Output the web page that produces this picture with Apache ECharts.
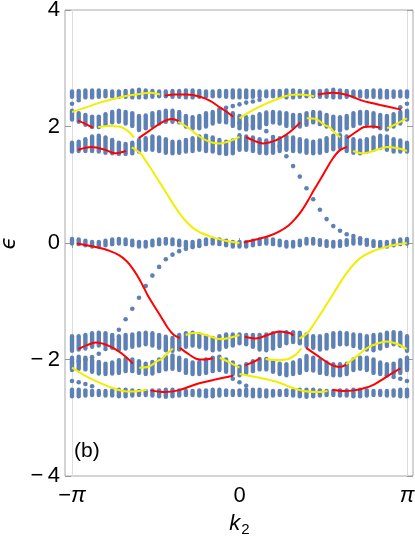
<!DOCTYPE html>
<html>
<head>
<meta charset="utf-8">
<script src="https://cdn.jsdelivr.net/npm/echarts@6/dist/echarts.min.js"></script>
<style>
  html, body { margin: 0; padding: 0; background: #fff; }
  #main { width: 415px; height: 544px; }
</style>
</head>
<body>
<div id="main"></div>
<script>
// columns of the bulk spectrum: 51 k-points from -pi to pi
const nCols = 51;
const kGrid = Array.from({ length: nCols }, (_, i) => -Math.PI + i * Math.PI / 25);

// bulk bands, lower / upper edge per column
const band1Lo = [2.51,2.50,2.50,2.50,2.51,2.52,2.52,2.51,2.51,2.50,2.50,2.50,2.51,2.52,2.52,2.51,2.51,2.50,2.50,2.51,2.52,2.52,2.52,2.51,2.50,2.50,2.50,2.51,2.52,2.52,2.52,2.51,2.50,2.50,2.51,2.52,2.52,2.51,2.51,2.50,2.50,2.51,2.52,2.52,2.51,2.51,2.50,2.50,2.51,2.52,2.51];
const band1Hi = [2.60,2.61,2.62,2.62,2.62,2.61,2.60,2.60,2.61,2.62,2.63,2.62,2.61,2.60,2.60,2.61,2.61,2.62,2.62,2.61,2.60,2.60,2.61,2.61,2.62,2.62,2.62,2.61,2.60,2.60,2.61,2.61,2.62,2.62,2.61,2.60,2.60,2.61,2.62,2.63,2.62,2.61,2.60,2.60,2.61,2.62,2.62,2.61,2.60,2.60,2.60];
const band2Lo = [2.12,2.08,2.03,1.99,1.99,2.03,2.07,2.08,2.05,2.01,1.94,1.97,2.01,2.05,2.08,2.08,2.07,2.00,1.97,1.97,2.00,2.05,2.08,2.07,2.01,1.97,1.95,1.97,2.01,2.04,2.07,2.05,2.01,1.99,2.00,2.03,2.07,2.04,2.00,1.95,1.93,1.97,2.01,2.05,2.04,2.00,1.97,1.95,2.00,2.05,2.12];
const band2Hi = [2.27,2.23,2.20,2.17,2.17,2.21,2.25,2.27,2.25,2.23,2.18,2.19,2.23,2.25,2.27,2.27,2.25,2.18,2.16,2.18,2.23,2.25,2.27,2.25,2.23,2.18,2.16,2.17,2.21,2.24,2.25,2.24,2.23,2.20,2.20,2.23,2.25,2.24,2.20,2.17,2.16,2.18,2.23,2.25,2.25,2.23,2.20,2.18,2.21,2.25,2.27];
const band3Lo = [1.57,1.58,1.58,1.58,1.57,1.55,1.54,1.53,1.53,1.54,1.57,1.60,1.60,1.58,1.55,1.54,1.55,1.57,1.58,1.60,1.58,1.57,1.54,1.53,1.54,1.60,1.60,1.58,1.55,1.54,1.55,1.58,1.60,1.58,1.57,1.55,1.54,1.55,1.58,1.61,1.63,1.58,1.55,1.54,1.57,1.60,1.63,1.60,1.57,1.57,1.57];
const band3Hi = [1.72,1.74,1.78,1.83,1.84,1.81,1.77,1.72,1.70,1.72,1.77,1.80,1.83,1.81,1.78,1.74,1.74,1.77,1.80,1.83,1.84,1.81,1.77,1.74,1.76,1.85,1.83,1.81,1.78,1.76,1.77,1.80,1.83,1.81,1.78,1.76,1.74,1.76,1.80,1.84,1.85,1.83,1.78,1.76,1.78,1.81,1.84,1.83,1.78,1.76,1.72];
const band0Lo = [-0.01,-0.02,-0.04,-0.06,-0.06,-0.04,-0.02,-0.01,-0.02,-0.04,-0.06,-0.06,-0.04,-0.02,-0.01,-0.02,-0.04,-0.06,-0.06,-0.04,-0.02,-0.01,-0.02,-0.04,-0.06,-0.06,-0.06,-0.04,-0.02,-0.01,-0.02,-0.04,-0.06,-0.06,-0.04,-0.01,-0.01,-0.03,-0.05,-0.06,-0.05,-0.03,-0.01,-0.01,-0.03,-0.05,-0.06,-0.06,-0.04,-0.02,-0.01];
const band0Hi = [0.07,0.06,0.04,0.02,0.02,0.04,0.06,0.07,0.06,0.04,0.02,0.02,0.04,0.06,0.07,0.06,0.04,0.02,0.02,0.04,0.06,0.07,0.06,0.04,0.02,0.02,0.02,0.04,0.06,0.07,0.06,0.04,0.02,0.02,0.04,0.07,0.07,0.05,0.03,0.02,0.03,0.05,0.07,0.07,0.05,0.03,0.02,0.02,0.04,0.06,0.07];
const band4Lo = [-1.85,-1.83,-1.81,-1.78,-1.76,-1.77,-1.80,-1.83,-1.81,-1.78,-1.76,-1.74,-1.76,-1.80,-1.84,-1.85,-1.83,-1.78,-1.76,-1.78,-1.81,-1.84,-1.83,-1.78,-1.76,-1.72,-1.74,-1.78,-1.83,-1.84,-1.81,-1.77,-1.72,-1.70,-1.72,-1.77,-1.80,-1.83,-1.81,-1.78,-1.74,-1.74,-1.77,-1.80,-1.83,-1.84,-1.81,-1.77,-1.74,-1.76,-1.85];
const band4Hi = [-1.60,-1.60,-1.58,-1.55,-1.54,-1.55,-1.58,-1.60,-1.58,-1.57,-1.55,-1.54,-1.55,-1.58,-1.61,-1.63,-1.58,-1.55,-1.54,-1.57,-1.60,-1.63,-1.60,-1.57,-1.57,-1.57,-1.58,-1.58,-1.58,-1.57,-1.55,-1.54,-1.53,-1.53,-1.54,-1.57,-1.60,-1.60,-1.58,-1.55,-1.54,-1.55,-1.57,-1.58,-1.60,-1.58,-1.57,-1.54,-1.53,-1.54,-1.60];
const band5Lo = [-2.18,-2.16,-2.17,-2.21,-2.24,-2.25,-2.24,-2.23,-2.20,-2.20,-2.23,-2.25,-2.24,-2.20,-2.17,-2.16,-2.18,-2.23,-2.25,-2.25,-2.23,-2.20,-2.18,-2.21,-2.25,-2.27,-2.23,-2.20,-2.17,-2.17,-2.21,-2.25,-2.27,-2.25,-2.23,-2.18,-2.19,-2.23,-2.25,-2.27,-2.27,-2.25,-2.18,-2.16,-2.18,-2.23,-2.25,-2.27,-2.25,-2.23,-2.18];
const band5Hi = [-1.97,-1.95,-1.97,-2.01,-2.04,-2.07,-2.05,-2.01,-1.99,-2.00,-2.03,-2.07,-2.04,-2.00,-1.95,-1.93,-1.97,-2.01,-2.05,-2.04,-2.00,-1.97,-1.95,-2.00,-2.05,-2.12,-2.08,-2.03,-1.99,-1.99,-2.03,-2.07,-2.08,-2.05,-2.01,-1.94,-1.97,-2.01,-2.05,-2.08,-2.08,-2.07,-2.00,-1.97,-1.97,-2.00,-2.05,-2.08,-2.07,-2.01,-1.97];
const band6Lo = [-2.63,-2.63,-2.62,-2.61,-2.61,-2.62,-2.62,-2.63,-2.63,-2.62,-2.61,-2.61,-2.62,-2.63,-2.64,-2.63,-2.62,-2.61,-2.61,-2.62,-2.63,-2.63,-2.62,-2.61,-2.61,-2.61,-2.62,-2.63,-2.63,-2.63,-2.62,-2.61,-2.61,-2.62,-2.63,-2.64,-2.63,-2.62,-2.61,-2.61,-2.62,-2.62,-2.63,-2.63,-2.62,-2.61,-2.61,-2.62,-2.62,-2.63,-2.63];
const band6Hi = [-2.52,-2.52,-2.53,-2.54,-2.54,-2.54,-2.53,-2.52,-2.52,-2.53,-2.54,-2.54,-2.53,-2.53,-2.52,-2.52,-2.53,-2.54,-2.54,-2.53,-2.53,-2.52,-2.52,-2.53,-2.54,-2.53,-2.52,-2.52,-2.52,-2.53,-2.54,-2.54,-2.53,-2.53,-2.52,-2.52,-2.52,-2.53,-2.54,-2.54,-2.53,-2.53,-2.52,-2.52,-2.53,-2.54,-2.54,-2.54,-2.53,-2.52,-2.52];

// edge-state dots: [column, energy]
const edgeDots = [
  [0,2.39],[1,2.45],[49,2.33],[50,2.39],
  [22,2.29],[23,2.32],[24,2.35],[25,2.38],[26,2.41],[27,2.43],[28,2.46],
  [25,2.06],[26,2.03],[27,2.01],[28,1.98],[29,1.92],[30,1.82],[31,1.66],[32,1.49],[33,1.32],[34,1.14],
  [35,0.94],[36,0.75],[37,0.57],[38,0.41],[39,0.29],[40,0.21],[41,0.15],[42,0.12],[43,0.08],[44,0.05],
  [0,-2.06],[1,-2.03],[2,-2.00],[3,-1.96],[4,-1.90],[5,-1.82],[6,-1.66],[7,-1.49],[8,-1.31],[9,-1.13],
  [10,-0.94],[11,-0.74],[12,-0.56],[13,-0.41],[14,-0.28],[15,-0.20],[16,-0.14],[17,-0.10],[18,-0.07],[19,-0.05],[50,-2.06],
  [47,-2.27],[48,-2.30],[49,-2.33],[50,-2.37],[0,-2.37],[1,-2.39],[2,-2.42],[3,-2.46],
  [24,-2.33],[25,-2.39],[26,-2.45]
];

// red edge-state lines: [k, energy]
const red1 = [[-1.40,2.53],[-1.21,2.55],[-0.99,2.55],[-0.74,2.51],[-0.55,2.44],[-0.42,2.36],[-0.27,2.27],[-0.12,2.17]];
const red2 = [[1.47,2.55],[1.75,2.58],[2.02,2.54],[2.32,2.44],[2.64,2.37],[3.03,2.29]];
const red3 = [[-3.03,2.10],[-2.90,2.05],[-2.75,1.98]];
const red4 = [[-3.03,1.60],[-2.77,1.65],[-2.52,1.60],[-2.34,1.54],[-2.13,1.58]];
const red5 = [[-1.89,1.80],[-1.70,1.92],[-1.44,2.08],[-1.27,2.13],[-1.14,2.09]];
const red6 = [[0.12,1.82],[0.29,1.75],[0.44,1.71],[0.70,1.77],[0.95,1.91],[1.14,2.07]];
const red7 = [[2.02,1.80],[2.19,1.91],[2.34,1.99],[2.49,2.00],[2.64,1.98]];
const red8 = [[0.08,0.01],[0.31,0.06],[0.55,0.12],[0.75,0.20],[0.92,0.30],[1.05,0.42],[1.17,0.56],[1.28,0.72],[1.39,0.90],[1.51,1.08],[1.63,1.27],[1.75,1.45],[1.88,1.59],[2.02,1.65]];
const red9 = [[1.74,-2.52],[1.95,-2.54],[2.15,-2.53],[2.35,-2.49],[2.52,-2.43],[2.65,-2.36],[2.77,-2.29],[3.02,-2.15]];
const red10 = [[-1.67,-2.53],[-1.40,-2.56],[-1.15,-2.53],[-0.80,-2.42],[-0.48,-2.35],[-0.12,-2.28]];
const red11 = [[0.11,-2.10],[0.24,-2.05],[0.39,-1.98]];
const red12 = [[0.10,-1.61],[0.30,-1.64],[0.55,-1.57],[0.75,-1.52],[0.95,-1.55],[1.01,-1.59]];
const red13 = [[1.25,-1.80],[1.44,-1.92],[1.70,-2.08],[1.87,-2.13],[2.00,-2.09]];
const red14 = [[-3.02,-1.82],[-2.85,-1.75],[-2.70,-1.71],[-2.44,-1.77],[-2.19,-1.91],[-2.00,-2.07]];
const red15 = [[-1.12,-1.80],[-0.95,-1.91],[-0.80,-1.99],[-0.65,-2.00],[-0.50,-1.98]];
const red16 = [[-3.05,-0.01],[-2.70,-0.07],[-2.45,-0.13],[-2.26,-0.21],[-2.12,-0.31],[-2.01,-0.43],[-1.91,-0.57],[-1.82,-0.72],[-1.72,-0.90],[-1.60,-1.08],[-1.47,-1.27],[-1.35,-1.45],[-1.23,-1.58],[-1.12,-1.63]];

// yellow edge-state lines: [k, energy]
const yel1 = [[-3.14,2.25],[-2.90,2.32],[-2.62,2.41],[-2.37,2.47],[-2.15,2.52],[-1.87,2.56],[-1.68,2.58],[-1.49,2.55]];
const yel2 = [[0,2.14],[0.25,2.28],[0.52,2.40],[0.76,2.49],[0.95,2.54],[1.14,2.55],[1.40,2.52]];
const yel3 = [[-2.65,1.99],[-2.45,2.01],[-2.26,2.00],[-2.09,1.92],[-1.98,1.81]];
const yel4 = [[-2.02,1.64],[-1.87,1.55],[-1.75,1.40],[-1.62,1.22],[-1.49,1.03],[-1.36,0.84],[-1.23,0.65],[-1.10,0.48],[-0.97,0.34],[-0.83,0.23],[-0.66,0.15],[-0.44,0.08],[-0.22,0.03],[0,0.00]];
const yel5 = [[-1.15,2.08],[-0.95,1.97],[-0.74,1.82],[-0.50,1.72],[-0.37,1.71],[-0.12,1.77],[0,1.82]];
const yel6 = [[1.26,2.14],[1.45,2.12],[1.59,2.03],[1.70,1.98],[1.77,1.91],[1.89,1.81]];
const yel7 = [[2.77,1.97],[2.95,2.05],[3.14,2.14]];
const yel8 = [[2.13,1.58],[2.32,1.54],[2.58,1.60],[2.77,1.65],[2.95,1.63],[3.14,1.58]];
const yel9 = [[0,-2.25],[0.35,-2.31],[0.72,-2.39],[1.00,-2.49],[1.20,-2.54],[1.45,-2.56],[1.65,-2.54]];
const yel10 = [[-3.14,-2.14],[-2.89,-2.28],[-2.62,-2.40],[-2.38,-2.49],[-2.19,-2.54],[-2.00,-2.55],[-1.74,-2.52]];
const yel11 = [[0.49,-1.99],[0.69,-2.01],[0.88,-2.00],[1.05,-1.92],[1.16,-1.81]];
const yel12 = [[1.12,-1.64],[1.27,-1.55],[1.39,-1.40],[1.52,-1.22],[1.65,-1.03],[1.78,-0.84],[1.91,-0.65],[2.04,-0.48],[2.17,-0.34],[2.31,-0.23],[2.48,-0.15],[2.70,-0.08],[2.92,-0.03],[3.14,0.00]];
const yel13 = [[2.00,-2.08],[2.19,-1.95],[2.40,-1.80],[2.60,-1.72],[2.75,-1.69],[2.95,-1.73],[3.14,-1.82]];
const yel14 = [[-1.88,-2.14],[-1.69,-2.12],[-1.55,-2.03],[-1.44,-1.98],[-1.37,-1.91],[-1.25,-1.81]];
const yel15 = [[-0.37,-1.97],[-0.19,-2.05],[0,-2.14]];
const yel16 = [[-1.01,-1.58],[-0.82,-1.54],[-0.56,-1.60],[-0.37,-1.65],[-0.19,-1.63],[0,-1.58]];

// tick labels
const yTicks = [-4, -2, 0, 2, 4];

const BLUE = "#5E81B5";
const RED = "#F00";
const YELLOW = "#F2EE00";
const FONT = "Liberation Sans, Arial, sans-serif";

const bands = [
  [band1Lo, band1Hi], [band2Lo, band2Hi], [band3Lo, band3Hi], [band0Lo, band0Hi],
  [band4Lo, band4Hi], [band5Lo, band5Hi], [band6Lo, band6Hi],
];
const redLines = [red1, red2, red3, red4, red5, red6, red7, red8, red9, red10, red11, red12, red13, red14, red15, red16];
const yellowLines = [yel1, yel2, yel3, yel4, yel5, yel6, yel7, yel8, yel9, yel10, yel11, yel12, yel13, yel14, yel15, yel16];

let series = [];

// bulk bands: one vertical rounded stroke per column
bands.forEach(function (b) {
  series.push({
    type: "custom",
    xAxisIndex: 1,
    yAxisIndex: 2,
    silent: true,
    clip: false,
    z: 2,
    encode: { x: 0, y: [1, 2] },
    data: kGrid.map((k, i) => [k, b[0][i], b[1][i]]),
    renderItem: function (params, api) {
      const p1 = api.coord([api.value(0), api.value(1)]);
      const p2 = api.coord([api.value(0), api.value(2)]);
      return {
        type: "line",
        shape: { x1: p1[0], y1: p1[1], x2: p2[0], y2: p2[1] },
        style: { stroke: BLUE, lineWidth: 4.4, lineCap: "round" },
      };
    },
  });
});

// edge-state dots
series.push({
  type: "scatter",
  xAxisIndex: 1,
  yAxisIndex: 2,
  silent: true,
  clip: false,
  z: 2,
  symbolSize: 4.6,
  itemStyle: { color: BLUE, opacity: 1 },
  data: edgeDots.map((d) => [kGrid[d[0]], d[1]]),
});

function addLines(list, color) {
  list.forEach(function (seg) {
    series.push({
      type: "line",
      xAxisIndex: 1,
      yAxisIndex: 2,
      silent: true,
      clip: false,
      z: 4,
      smooth: 0.35,
      showSymbol: false,
      lineStyle: { color: color, width: 2 },
      data: seg,
    });
  });
}
addLines(redLines, RED);
addLines(yellowLines, YELLOW);

let option = {
  backgroundColor: "#fff",
  animation: false,
  title: {
    text: "(b)",
    left: 74,
    top: 441,
    padding: 0,
    textStyle: { fontFamily: FONT, fontSize: 21, fontWeight: "normal", color: "#000" },
  },
  grid: [
    // outer frame
    { left: 65, right: 2, top: 10, bottom: 68, outerBoundsMode: "none", show: true, borderColor: "#a8a8a8", borderWidth: 1 },
    // data area, -pi .. pi
    { left: 72, right: 8, top: 10, bottom: 68, outerBoundsMode: "none" },
  ],
  xAxis: [
    { gridIndex: 0, type: "value", min: 0, max: 1, show: false },
    {
      gridIndex: 1,
      type: "value",
      min: -Math.PI,
      max: Math.PI,
      interval: Math.PI,
      axisLine: { show: false },
      splitLine: { show: false },
      axisTick: { inside: true, length: 5, lineStyle: { color: "#999" } },
      axisLabel: {
        margin: 9,
        color: "#000",
        fontFamily: FONT,
        fontSize: 22,
        formatter: function (v) {
          if (Math.abs(v) < 1e-6) return "0";
          return v < 0 ? "−{p|π}" : "{p|π}";
        },
        rich: { p: { fontFamily: FONT, fontSize: 22, fontStyle: "italic", color: "#000" } },
      },
      name: "{k|k}{s|2}",
      nameLocation: "middle",
      nameGap: 34,
      nameTextStyle: {
        rich: {
          k: { fontFamily: FONT, fontSize: 22, fontStyle: "italic", color: "#000" },
          s: { fontFamily: FONT, fontSize: 15, color: "#000", padding: [12, 0, 0, 1] },
        },
      },
    },
    {
      gridIndex: 1,
      type: "value",
      position: "top",
      min: -Math.PI,
      max: Math.PI,
      interval: Math.PI,
      axisLine: { show: false },
      splitLine: { show: false },
      axisLabel: { show: false },
      axisTick: { inside: true, length: 5, lineStyle: { color: "#999" } },
    },
  ],
  yAxis: [
    {
      gridIndex: 0,
      type: "value",
      min: yTicks[0],
      max: yTicks[yTicks.length - 1],
      interval: 2,
      axisLine: { show: false },
      splitLine: { show: false },
      axisTick: { inside: true, length: 6, lineStyle: { color: "#999" } },
      axisLabel: {
        margin: 5,
        color: "#000",
        fontFamily: FONT,
        fontSize: 22,
        formatter: function (v) {
          return v < 0 ? "−\u2009" + Math.abs(v) : String(v);
        },
      },
      name: "ϵ",
      nameLocation: "middle",
      nameGap: 43,
      nameTextStyle: { fontFamily: "DejaVu Sans, sans-serif", fontSize: 21, fontStyle: "italic", color: "#000" },
    },
    {
      gridIndex: 0,
      type: "value",
      position: "right",
      min: -4,
      max: 4,
      interval: 2,
      axisLine: { show: false },
      splitLine: { show: false },
      axisLabel: { show: false },
      axisTick: { inside: true, length: 6, lineStyle: { color: "#999" } },
    },
    {
      // light vertical line at -pi
      gridIndex: 1,
      type: "value",
      min: -4,
      max: 4,
      axisLine: { show: true, onZero: false, lineStyle: { color: "#dcdcdc", width: 1 } },
      axisTick: { show: false },
      axisLabel: { show: false },
      splitLine: { show: false },
    },
    {
      // light vertical line at pi
      gridIndex: 1,
      type: "value",
      position: "right",
      min: -4,
      max: 4,
      axisLine: { show: true, onZero: false, lineStyle: { color: "#dcdcdc", width: 1 } },
      axisTick: { show: false },
      axisLabel: { show: false },
      splitLine: { show: false },
    },
  ],
  series: series,
};

let myChart = echarts.init(document.getElementById("main"));
myChart.setOption(option);
</script>
</body>
</html>
